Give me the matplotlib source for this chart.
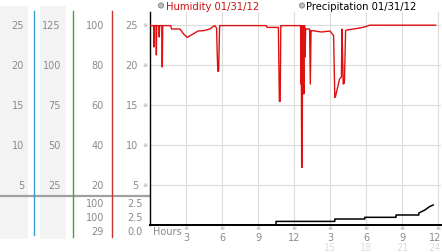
import matplotlib
matplotlib.use("Agg")
import matplotlib.pyplot as plt
from matplotlib import transforms
from matplotlib.patches import Rectangle, Circle

# ---------------- data ----------------
hum_hours = [0.0, 0.3, 0.33, 0.36, 0.5, 0.53, 0.56, 0.74, 0.77, 0.8, 0.98, 1.02, 1.06,
             1.72, 1.8, 2.5, 2.8, 3.1, 3.3, 3.6, 4.0, 4.5, 5.0, 5.25, 5.4, 5.55,
             5.6, 5.65, 5.72, 5.8, 9.7, 9.75, 10.7, 10.78, 10.85, 10.9, 10.98,
             12.55, 12.57, 12.6, 12.64, 12.68, 12.72, 12.76, 12.82, 12.86, 12.9,
             12.93, 12.97, 13.05, 13.3, 13.36, 13.42, 13.5, 14.3, 15.0, 15.3,
             15.4, 15.45, 15.6, 15.8, 15.95, 16.0, 16.05, 16.1, 16.2, 16.3, 16.4,
             17.5, 18.0, 18.3, 23.8]
hum_values = [99.7, 99.7, 89, 99.7, 99.7, 85, 99.7, 99.7, 94, 99.7, 99.7, 79, 99.7,
              99.7, 98, 98, 95.5, 93.8, 94.5, 95.5, 97, 97.2, 98, 99.2, 99.7, 98.5,
              86, 76.8, 77, 99.7, 99.7, 98.8, 98.8, 61.8, 61.8, 99.7, 99.7,
              99.7, 70.5, 99.7, 28.8, 28.8, 99.7, 99.7, 65.5, 99.7, 99.7,
              84, 98, 98, 98, 70.5, 97.2, 97.2, 96.5, 97, 94.7,
              63.8, 64, 68, 73, 74, 98, 85.5, 70.5, 71, 97.2, 97.5,
              98.5, 99.2, 99.9, 99.9]

prec_hours = [0.0, 10.5, 10.5, 15.4, 15.4, 17.9, 17.9, 20.5, 20.5, 22.4, 22.4,
              22.9, 23.3, 23.6]
prec_values = [0.0, 0.0, 0.45, 0.45, 0.75, 0.75, 0.96, 0.96, 1.25, 1.25, 1.5,
               1.87, 2.3, 2.5]

col1_labels = [25, 20, 15, 10, 5]
col2_labels = [125, 100, 75, 50, 25]
col3_labels = [100, 80, 60, 40, 20]
col4_labels = [25, 20, 15, 10, 5]
hum_stats = ["100", "100", "29"]
prec_stats = ["2.5", "2.5", "0.0"]
x_ticks = [3, 6, 9, 12, 15, 18, 21, 24]
x_tick_labels = ["3", "6", "9", "12", "3", "6", "9", "12"]
x_tick_labels2 = ["15", "18", "21", "24"]
legend_labels = ["Humidity 01/31/12", "Precipitation 01/31/12"]

# ---------------- figure ----------------
W, H = 442, 253
fig = plt.figure(figsize=(W / 100, H / 100), dpi=100)
fig.patch.set_facecolor("white")

ov = fig.add_axes([0, 0, 1, 1])
ov.set_xlim(0, W)
ov.set_ylim(H, 0)
ov.axis("off")

left, right, top, bottom = 150, 441, 13, 226
ax = fig.add_axes([left / W, (H - bottom) / H, (right - left) / W, (bottom - top) / H])
ax.set_xlim(0, (right - left) / 12)
ax.set_ylim(0, (bottom - top) / 2)
ax.set_facecolor("none")
for s in ["top", "right"]:
    ax.spines[s].set_visible(False)
ax.spines["left"].set_color("black")
ax.spines["left"].set_linewidth(1.0)
ax.spines["bottom"].set_color("black")
ax.spines["bottom"].set_linewidth(1.4)
ax.set_xticks(x_ticks)
ax.set_yticks(col3_labels)
ax.tick_params(length=0, labelbottom=False, labelleft=False)
ax.grid(True, color="#dcdcdc", linewidth=0.8)
ax.set_axisbelow(True)

ax.plot(hum_hours, hum_values, color="#dd1111", linewidth=1.0, zorder=3)

ax2 = ax.twinx()
ax2.set_ylim(0, (bottom - top) / 8)
ax2.axis("off")
ax2.plot(prec_hours, prec_values, color="black", linewidth=1.1, zorder=3)

bt = transforms.blended_transform_factory(ov.transData, ax.transData)
bx = transforms.blended_transform_factory(ax.transData, ov.transData)

grey = "#8a8a8a"
fs = 7
mark_fam = ["DejaVu Sans", "Noto Sans CJK JP"]

ov.add_patch(Rectangle((0, 7), 28, 233, facecolor="#f3f3f3", edgecolor="none", zorder=0))
ov.add_patch(Rectangle((40, 7), 26, 233, facecolor="#f3f3f3", edgecolor="none", zorder=0))

ov.plot([33.5, 33.5], [12, 236], color="#3a9fd0", lw=1.0)
ov.plot([72.5, 72.5], [12, 238], color="#3aa83a", lw=1.0)
ov.plot([111.5, 111.5], [12, 238], color="#c83232", lw=1.0)

ov.plot([0, 149], [197, 197], color="#a0a0a0", lw=1.6, zorder=1)

for v, a, b, c, d in zip(col3_labels, col1_labels, col2_labels, col3_labels, col4_labels):
    ov.text(24, v, str(a), transform=bt, ha="right", va="center", fontsize=fs, color=grey)
    ov.text(61, v, str(b), transform=bt, ha="right", va="center", fontsize=fs, color=grey)
    ov.text(104, v, str(c), transform=bt, ha="right", va="center", fontsize=fs, color=grey)
    ov.text(138, v, str(d), transform=bt, ha="right", va="center", fontsize=fs, color=grey)
    ov.text(145, v, "※", transform=bt, ha="center", va="center", fontsize=4.5,
            color="#999999", family=mark_fam)

for i, (hs, ps) in enumerate(zip(hum_stats, prec_stats)):
    yy = 204 + 14 * i
    ov.text(104, yy, hs, ha="right", va="center", fontsize=fs, color=grey)
    ov.text(143, yy, ps, ha="right", va="center", fontsize=fs, color=grey)

ov.text(153, 232, "Hours", ha="left", va="center", fontsize=fs, color=grey)
n = len(x_ticks)
for i, (t, lab) in enumerate(zip(x_ticks, x_tick_labels)):
    ov.text(t, 229, "※", transform=bx, ha="center", va="center", fontsize=4.5,
            color="#999999", family=mark_fam)
    if i == n - 1:
        ov.text(W - 1, 238, lab, ha="right", va="center", fontsize=fs, color=grey)
    else:
        ov.text(t, 238, lab, transform=bx, ha="center", va="center", fontsize=fs, color=grey)
m = len(x_tick_labels2)
for i, (t, lab) in enumerate(zip(x_ticks[4:], x_tick_labels2)):
    if i == m - 1:
        ov.text(W - 1, 248, lab, ha="right", va="center", fontsize=fs, color="#dddddd")
    else:
        ov.text(t, 248, lab, transform=bx, ha="center", va="center", fontsize=fs, color="#dddddd")

leg_colors = ["#cc1111", "black"]
leg_x = [161, 302]
for lx, lab, col in zip(leg_x, legend_labels, leg_colors):
    ov.add_patch(Circle((lx, 6.5), 2.6, facecolor="#bbbbbb", edgecolor="#888888", lw=0.6))
    ov.text(lx + 4.5, 6.5, lab, ha="left", va="center", fontsize=7.2, color=col)

fig.savefig("out.png", dpi=100)
